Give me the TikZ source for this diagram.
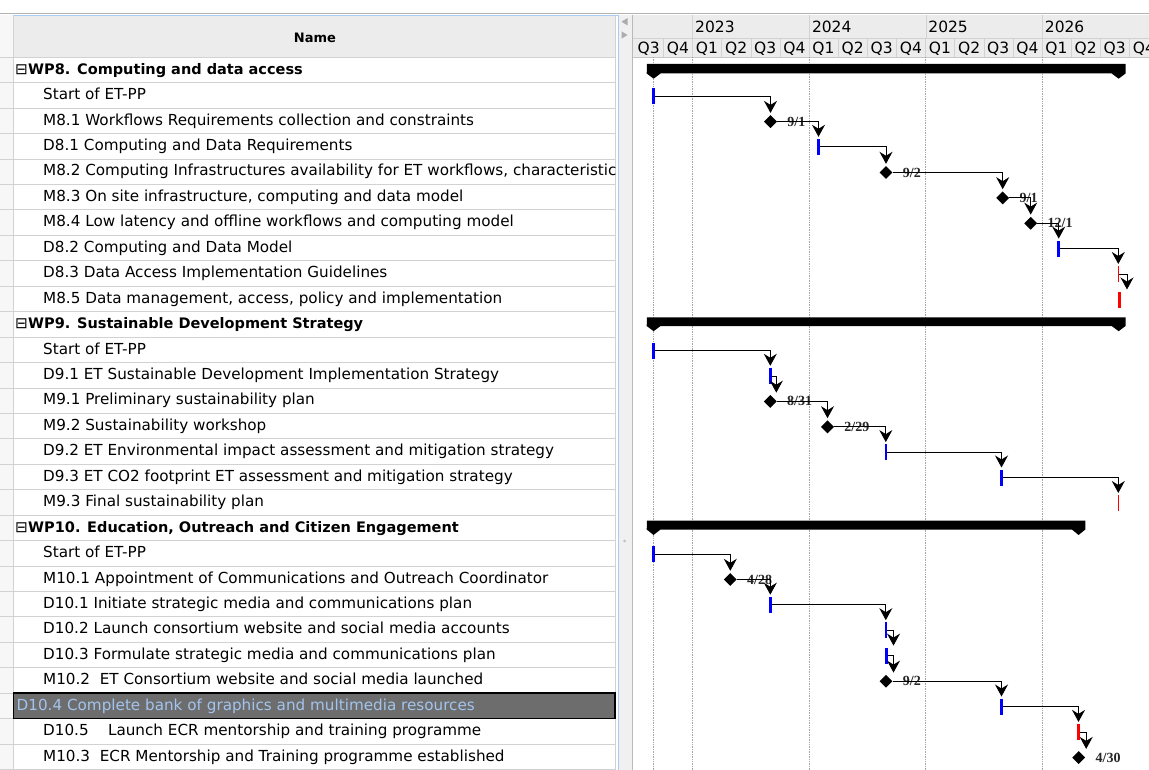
\documentclass[tikz,border=0pt]{standalone}
\usepackage{fontspec}
\setmainfont{DejaVu Sans}
\newfontfamily\datefont{Liberation Serif}
\usetikzlibrary{shapes.geometric, arrows.meta, positioning}

\definecolor{hdrgray}{HTML}{ECECEC}
\definecolor{linegray}{HTML}{D2D2D2}
\definecolor{tickblue}{HTML}{0000FF}
\definecolor{tickred}{HTML}{FF0000}
\definecolor{selgray}{HTML}{6D6D6D}
\definecolor{seltext}{HTML}{A3C4EE}
\definecolor{focusblue}{HTML}{A9CDF2}

\tikzstyle{rowtext} = [anchor=base west, inner sep=0pt, font=\fontsize{15.2}{18}\selectfont]
\tikzstyle{wptext} = [rowtext, font=\fontsize{14.5}{17}\selectfont\bfseries]
\tikzstyle{headtext} = [inner sep=0pt, font=\fontsize{13}{15}\selectfont\bfseries]
\tikzstyle{qtext} = [anchor=base, inner sep=0pt, font=\fontsize{15.5}{18}\selectfont]
\tikzstyle{yeartext} = [anchor=base west, inner sep=0pt, font=\fontsize{15.5}{18}\selectfont]
\tikzstyle{task} = [rectangle, fill=tickblue, minimum width=3pt, minimum height=16pt, inner sep=0pt]
\tikzstyle{thintask} = [task, minimum width=1.6pt]
\tikzstyle{late} = [task, fill=tickred]
\tikzstyle{thinlate} = [thintask, fill=tickred]
\tikzstyle{milestone} = [diamond, fill=black, minimum size=13pt, inner sep=0pt]
\tikzstyle{datelabel} = [inner sep=1pt, text=black!85, font=\datefont\fontsize{14}{16}\selectfont\bfseries]
\tikzstyle{arrow} = [line width=1pt, -{Stealth[length=12pt,width=13pt,inset=4pt]}, shorten >=2pt]
\tikzstyle{gridline} = [densely dotted, gray!70, line width=0.7pt]

\begin{document}
\begin{tikzpicture}[x=1pt, y=-1pt]
\useasboundingbox (0,0) rectangle (1149,770);
\fill[white] (0,0) rectangle (1149,770);

% table
\fill[gray!6] (0,15) rectangle (13.5,770);
\fill[hdrgray] (13.5,15) rectangle (615,57);
\foreach \k in {0,...,28} \draw[linegray] (0,57+25.44*\k) -- (615,57+25.44*\k);
\draw[linegray] (13.5,15) -- (13.5,770);
\draw[linegray] (615,15) -- (615,770);
\fill[selgray] (13.5,693) rectangle (615,718.4);
\draw[black, line width=1.2pt] (13.5,693) rectangle (615,718.4);
\node[headtext] (namehead) at (315,38) {Name};

\begin{scope}
\clip (13.5,57) rectangle (615,770);
\node[rowtext] (wp8box) at (15,74.2) {⊟};
\node[wptext] (row0) at (28,74.2) {WP8. Computing and data access};
\node[rowtext] (row1) at (43,99.6) {Start of ET-PP};
\node[rowtext] (row2) at (43,125.1) {M8.1 Workflows Requirements collection and constraints};
\node[rowtext] (row3) at (43,150.5) {D8.1 Computing and Data Requirements};
\node[rowtext] (row4) at (43,176.0) {M8.2 Computing Infrastructures availability for ET workflows, characteristics};
\node[rowtext] (row5) at (43,201.4) {M8.3 On site infrastructure, computing and data model};
\node[rowtext] (row6) at (43,226.8) {M8.4 Low latency and offline workflows and computing model};
\node[rowtext] (row7) at (43,252.3) {D8.2 Computing and Data Model};
\node[rowtext] (row8) at (43,277.7) {D8.3 Data Access Implementation Guidelines};
\node[rowtext] (row9) at (43,303.2) {M8.5 Data management, access, policy and implementation};
\node[rowtext] (wp9box) at (15,328.6) {⊟};
\node[wptext] (row10) at (28,328.6) {WP9. Sustainable Development Strategy};
\node[rowtext] (row11) at (43,354.0) {Start of ET-PP};
\node[rowtext] (row12) at (43,379.5) {D9.1 ET Sustainable Development Implementation Strategy};
\node[rowtext] (row13) at (43,404.9) {M9.1 Preliminary sustainability plan};
\node[rowtext] (row14) at (43,430.4) {M9.2 Sustainability workshop};
\node[rowtext] (row15) at (43,455.8) {D9.2 ET Environmental impact assessment and mitigation strategy};
\node[rowtext] (row16) at (43,481.2) {D9.3 ET CO2 footprint ET assessment and mitigation strategy};
\node[rowtext] (row17) at (43,506.7) {M9.3 Final sustainability plan};
\node[rowtext] (wp10box) at (15,532.1) {⊟};
\node[wptext] (row18) at (28,532.1) {WP10. Education, Outreach and Citizen Engagement};
\node[rowtext] (row19) at (43,557.6) {Start of ET-PP};
\node[rowtext] (row20) at (43,583.0) {M10.1 Appointment of Communications and Outreach Coordinator};
\node[rowtext] (row21) at (43,608.4) {D10.1 Initiate strategic media and communications plan};
\node[rowtext] (row22) at (43,633.9) {D10.2 Launch consortium website and social media accounts};
\node[rowtext] (row23) at (43,659.3) {D10.3 Formulate strategic media and communications plan};
\node[rowtext] (row24) at (43,684.8) {M10.2\ \ ET Consortium website and social media launched};
\node[rowtext, text=seltext] (row25) at (16.5,710.2) {D10.4 Complete bank of graphics and multimedia resources};
\node[rowtext] (row26) at (43,735.6) {D10.5\ \ \ \ Launch ECR mentorship and training programme};
\node[rowtext] (row27) at (43,761.1) {M10.3\ \ ECR Mentorship and Training programme established};
\end{scope}

% splitter
\fill[gray!12] (618.5,15) rectangle (632.5,770);
\draw[focusblue, line width=1pt] (13.5,15.5) -- (618.3,15.5) -- (618.3,770);
\draw[gray!55] (632.5,15) -- (632.5,770);
\fill[gray!65] (621.5,21.7) -- (627.5,18) -- (627.5,25.4) -- cycle;
\fill[gray!65] (627.5,35) -- (621.5,31.3) -- (621.5,38.7) -- cycle;
\fill[gray!50] (624.5,541) circle (1.5);
\draw[gray!60, line width=1.4pt] (0,13.3) -- (1149,13.3);

% chart header
\fill[hdrgray] (633,15) rectangle (1149,57);
\draw[gray!35] (633,38) -- (1149,38);
\draw[gray!45] (633,57) -- (1149,57);
\foreach \x in {692.5,809.3,925.7,1042.2} \draw[gray!35] (\x,15) -- (\x,38);
\foreach \i in {1,...,17} \draw[gray!35] (634.2+29.125*\i,38) -- (634.2+29.125*\i,57);
\foreach \q [count=\i from 0] in {Q3,Q4,Q1,Q2,Q3,Q4,Q1,Q2,Q3,Q4,Q1,Q2,Q3,Q4,Q1,Q2,Q3,Q4}
  \node[qtext] (q\i) at (648.75+29.125*\i,53.3) {\q};
\node[yeartext] (y2023) at (695,33) {2023};
\node[yeartext] (y2024) at (811.8,33) {2024};
\node[yeartext] (y2025) at (928.2,33) {2025};
\node[yeartext] (y2026) at (1044.7,33) {2026};

% chart
\foreach \x in {653.7,692.5,809.3,925.7,1042.2} \draw[gridline] (\x,57) -- (\x,770);
\fill (647,64) -- (1125.5,64) -- (1125.5,73.5) -- (1118.6,78.7) -- (1111.7,73.5) -- (660.5,73.5) -- (653.6,78.7) -- (646.7,73.5) -- cycle;
\fill (647,317.3) -- (1125.5,317.3) -- (1125.5,326) -- (1118.6,331.2) -- (1111.7,326) -- (660.5,326) -- (653.6,331.2) -- (646.7,326) -- cycle;
\fill (647,520.7) -- (1085.3,520.7) -- (1085.3,529.5) -- (1078.6,535) -- (1071.9,529.5) -- (660.5,529.5) -- (653.6,535) -- (646.7,529.5) -- cycle;

\node[task] (start8) at (653.7,96.1) {};
\node[milestone] (m81) at (770.5,121.6) {};
\node[task] (d81) at (818.5,147.0) {};
\node[milestone] (m82) at (886,172.5) {};
\node[milestone] (m83) at (1002.7,197.9) {};
\node[milestone] (m84) at (1030.7,223.3) {};
\node[task] (d82) at (1058.7,248.8) {};
\node[thinlate] (d83) at (1118.3,274.2) {};
\node[late] (m85) at (1119,299.7) {};

\node[task] (start9) at (653.7,350.5) {};
\node[task] (d91) at (770.3,376.0) {};
\node[milestone] (m91) at (770.3,401.4) {};
\node[milestone] (m92) at (827.5,426.9) {};
\node[thintask] (d92) at (885.8,452.3) {};
\node[task] (d93) at (1001.5,477.7) {};
\node[thinlate] (m93) at (1118.3,503.2) {};

\node[task] (start10) at (653.7,554.1) {};
\node[milestone] (m101) at (730.3,579.5) {};
\node[task] (d101) at (770.3,604.9) {};
\node[thintask] (d102) at (885.8,630.4) {};
\node[task] (d103) at (886,655.8) {};
\node[milestone] (m102) at (886,681.3) {};
\node[task] (d104) at (1001.5,706.7) {};
\node[late] (d105) at (1078.5,732.1) {};
\node[milestone] (m103) at (1078.7,757.6) {};

\node[datelabel, right=9pt of m81] (m81date) {9/1};
\node[datelabel, right=9pt of m82] (m82date) {9/2};
\node[datelabel, right=9pt of m83] (m83date) {9/1};
\node[datelabel, right=9pt of m84] (m84date) {12/1};
\node[datelabel, right=9pt of m91] (m91date) {8/31};
\node[datelabel, right=9pt of m92] (m92date) {2/29};
\node[datelabel, right=9pt of m101] (m101date) {4/28};
\node[datelabel, right=9pt of m102] (m102date) {9/2};
\node[datelabel, right=9pt of m103] (m103date) {4/30};

\draw[arrow] (start8) -| (m81.north);
\draw[arrow] (m81) -| (d81.north);
\draw[arrow] (d81) -| (m82.north);
\draw[arrow] (m82) -| (m83.north);
\draw[arrow] (m83) -| (m84.north);
\draw[arrow] (m84) -| (d82.north);
\draw[arrow] (d82) -| (d83.north);
\draw[arrow] (d83) -| ([xshift=8pt]m85.north);

\draw[arrow] (start9) -| (d91.north);
\draw[arrow] (d91) -| ([xshift=6pt]m91.north);
\draw[arrow] (m91) -| (m92.north);
\draw[arrow] (m92) -| (d92.north);
\draw[arrow] (d92) -| (d93.north);
\draw[arrow] (d93) -| (m93.north);

\draw[arrow] (start10) -| (m101.north);
\draw[arrow] (m101) -| (d101.north);
\draw[arrow] (d101) -| (d102.north);
\draw[arrow] (d102) -| ([xshift=7.5pt]d103.north);
\draw[arrow] (d103) -| ([xshift=7.5pt]m102.north);
\draw[arrow] (m102) -| (d104.north);
\draw[arrow] (d104) -| (d105.north);
\draw[arrow] (d105) -| ([xshift=7.5pt]m103.north);

\end{tikzpicture}
\end{document}
